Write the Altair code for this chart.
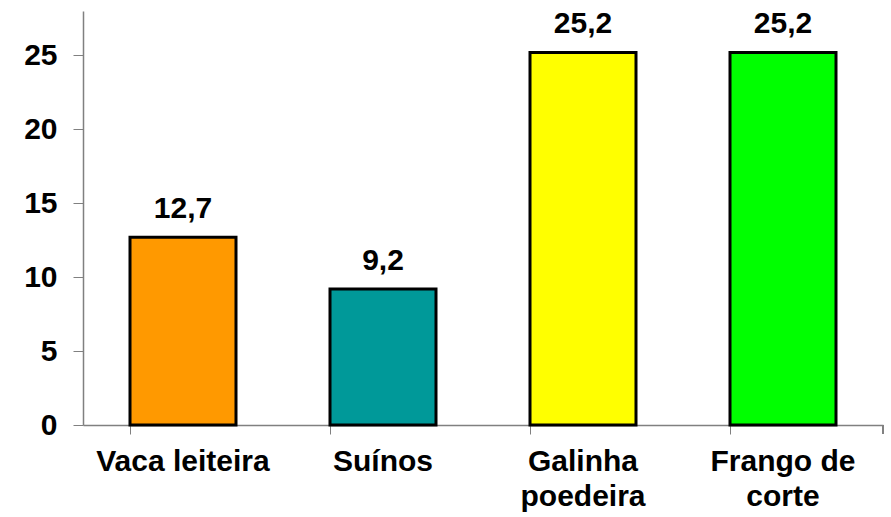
import altair as alt
import pandas as pd

# Categories (line breaks marked with "|") and their values
categorias = ["Vaca leiteira", "Suínos", "Galinha|poedeira", "Frango de|corte"]
valores = [12.7, 9.2, 25.2, 25.2]
rotulos = ["12,7", "9,2", "25,2", "25,2"]
cores = ["#FF9900", "#009999", "#FFFF00", "#00FF00"]

df = pd.DataFrame({"categoria": categorias, "valor": valores, "rotulo": rotulos, "cor": cores})

FONT = "Liberation Sans"
FS = 30

x_enc = alt.X(
    "categoria:N",
    sort=None,
    title=None,
    scale=alt.Scale(paddingInner=0.47, paddingOuter=0.235),
    axis=alt.Axis(
        labelAngle=0,
        labelExpr="split(datum.label, '|')",
        labelFont=FONT,
        labelFontSize=FS,
        labelFontWeight="bold",
        labelColor="black",
        labelLineHeight=35,
        labelPadding=12,
        bandPosition=0,
        tickSize=9,
        tickColor="#808080",
        domainColor="#808080",
        domainWidth=1.5,
        grid=False,
    ),
)

y_enc = alt.Y(
    "valor:Q",
    title=None,
    scale=alt.Scale(domain=[0, 28], nice=False),
    axis=alt.Axis(
        values=[0, 5, 10, 15, 20, 25],
        labelFont=FONT,
        labelFontSize=FS,
        labelFontWeight="bold",
        labelColor="black",
        labelPadding=16,
        tickSize=10,
        tickColor="#808080",
        domainColor="#808080",
        domainWidth=1.5,
        grid=False,
    ),
)

bars = alt.Chart(df).mark_bar(stroke="black", strokeWidth=3).encode(
    x=x_enc,
    y=y_enc,
    color=alt.Color("cor:N", scale=None, legend=None),
)

labels = alt.Chart(df).mark_text(
    font=FONT, fontSize=FS, fontWeight="bold", color="black",
    baseline="alphabetic", dy=-19,
).encode(
    x=alt.X("categoria:N", sort=None),
    y="valor:Q",
    text="rotulo:N",
)

# closing tick at the right end of the category axis
end_tick = alt.Chart(df).mark_rule(color="#808080", strokeWidth=1.5).encode(
    x=alt.value(800), y=alt.value(414), y2=alt.value(423)
)

chart = (
    alt.layer(bars, labels, end_tick)
    .properties(
        width=800,
        height=414,
        autosize=alt.AutoSizeParams(type="none"),
        padding={"left": 83, "top": 11, "right": 8, "bottom": 92},
        background="white",
    )
    .configure_view(stroke=None)
)

chart.save("out.html", embed_options={"renderer": "svg", "actions": False})
